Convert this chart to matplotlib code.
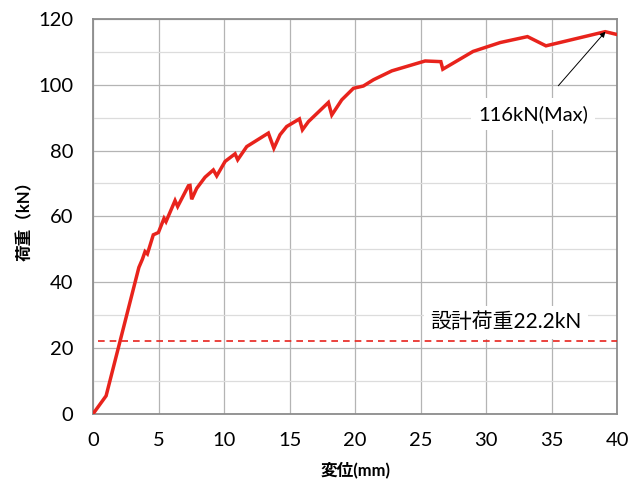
import matplotlib
matplotlib.use("Agg")
import matplotlib.pyplot as plt

plt.rcParams['font.family'] = ['Lato', 'Noto Sans CJK JP', 'DejaVu Sans']

# load-displacement curve
disp = [0, 1.0, 3.5, 3.77, 3.97, 4.15, 4.6, 4.99, 5.42, 5.57, 6.26, 6.46, 7.28, 7.4,
        7.53, 7.91, 8.55, 9.18, 9.44, 10.08, 10.84, 11.04, 11.73, 13.38, 13.8, 14.27,
        14.78, 15.75, 15.98, 16.44, 17.96, 18.22, 18.98, 19.87, 20.63, 21.4, 22.8,
        25.34, 26.54, 26.69, 29.0, 31.07, 33.15, 34.56, 39.08, 39.92]
load = [0, 5.5, 44.5, 47.0, 49.3, 48.6, 54.4, 55.1, 59.4, 58.4, 64.8, 63.0, 69.3, 69.4,
        65.2, 68.5, 71.9, 74.1, 72.3, 76.7, 79.0, 77.2, 81.2, 85.3, 80.7, 84.8,
        87.3, 89.6, 86.3, 88.8, 94.6, 90.8, 95.4, 98.9, 99.6, 101.5, 104.2,
        107.2, 107.0, 104.7, 110.1, 112.8, 114.6, 111.8, 116.1, 115.3]

design_x = [0.4, 40]
design_load = [22.2, 22.2]

fig = plt.figure(figsize=(6.37, 4.83), dpi=100)
ax = fig.add_axes([0.146, 0.143, 0.823, 0.818])

red = '#e8231c'
ax.plot(disp, load, color=red, lw=2.5, zorder=3, solid_joinstyle='miter')
ax.plot(design_x, design_load, color=red, lw=1.2, ls=(0, (4, 3)), zorder=3)

ax.set_xlim(0, 40)
ax.set_ylim(0, 120)
ax.set_xticks(range(0, 41, 5))
ax.set_yticks(range(0, 121, 20))
ax.set_yticks(range(10, 120, 20), minor=True)
ax.grid(True, which='major', color='#b4b4b4', lw=0.9)
ax.grid(True, which='minor', axis='y', color='#dcdcdc', lw=0.9)
ax.set_axisbelow(True)
for s in ax.spines.values():
    s.set_color('#8c8c8c')
    s.set_linewidth(1.3)
ax.tick_params(which='both', length=0, labelsize=14.5)
ax.tick_params(axis='x', pad=13)
ax.tick_params(axis='y', pad=14)

ax.set_xlabel('変位(mm)', fontsize=12, fontweight='bold', labelpad=9)
ax.set_ylabel('荷重（kN）', fontsize=12, fontweight='bold', labelpad=4)

ax.annotate('116kN(Max)', xy=(39.1, 116.1), xytext=(33.6, 91),
            fontsize=14.5, ha='center', va='center',
            bbox=dict(boxstyle='square,pad=0.35', fc='white', ec='none'),
            arrowprops=dict(arrowstyle='-|>', color='black', lw=0.7,
                            shrinkA=12, shrinkB=0, mutation_scale=8), zorder=4)
ax.text(31.5, 27.8, '設計荷重22.2kN', fontsize=15, ha='center', va='center',
        bbox=dict(boxstyle='square,pad=0.3', fc='white', ec='none'), zorder=4)

fig.savefig('out.png', dpi=100)
